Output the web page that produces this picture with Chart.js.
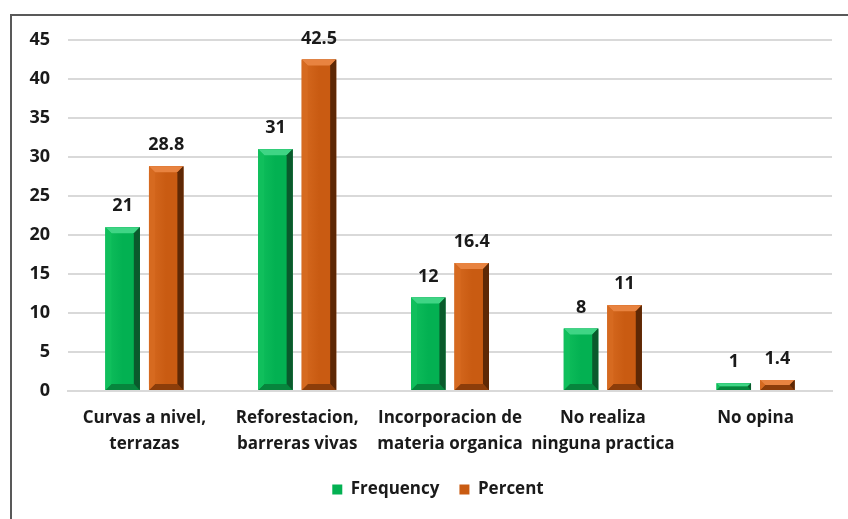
<!DOCTYPE html>
<html>
<head>
<meta charset="utf-8">
<script src="https://cdn.jsdelivr.net/npm/chart.js@4.4.1/dist/chart.umd.min.js"></script>
<style>
  html, body { margin: 0; padding: 0; background: #fff; overflow: hidden; }
  #wrap { position: relative; width: 848px; height: 519px; }
  #frame { position: absolute; left: 10px; top: 14px; width: 860px; height: 540px; border: 2px solid #595959; box-sizing: border-box; }
  canvas { position: absolute; left: 0; top: 0; }
</style>
</head>
<body>
<div id="wrap">
  <div id="frame"></div>
  <canvas id="c" width="848" height="519"></canvas>
</div>
<script>
const categories = [
  ["Curvas a nivel,", "terrazas"],
  ["Reforestacion,", "barreras vivas"],
  ["Incorporacion de", "materia organica"],
  ["No realiza", "ninguna practica"],
  ["No opina"]
];
const frequency = [21, 31, 12, 8, 1];
const percent = [28.8, 42.5, 16.4, 11, 1.4];
const yTicks = [0, 5, 10, 15, 20, 25, 30, 35, 40, 45];

const FONT = "'Open Sans', Lato, sans-serif";
const palette = {
  green: { main: '#03b152', light: '#3fd585', left: '#10bf5c', right: '#0a5a2c', bottom: '#07853d' },
  orange: { main: '#c95b12', light: '#e88340', left: '#d66a20', right: '#5e2805', bottom: '#8c3d0a' }
};

const bevelPlugin = {
  id: 'bevel',
  afterDatasetsDraw(chart) {
    const ctx = chart.ctx;
    chart.data.datasets.forEach((ds, i) => {
      const p = palette[ds.pal];
      chart.getDatasetMeta(i).data.forEach(bar => {
        const w = bar.width, L = bar.x - w / 2, R = bar.x + w / 2, T = bar.y, B = bar.base;
        const d = Math.min(6, (B - T) / 2);
        ctx.save();
        const g = ctx.createLinearGradient(L, 0, R, 0);
        g.addColorStop(0, p.left); g.addColorStop(0.5, p.main); g.addColorStop(0.85, p.main); g.addColorStop(1, p.right);
        ctx.fillStyle = g; ctx.fillRect(L, T, w, B - T);
        const poly = (pts, col) => { ctx.beginPath(); ctx.moveTo(pts[0][0], pts[0][1]); pts.slice(1).forEach(q => ctx.lineTo(q[0], q[1])); ctx.closePath(); ctx.fillStyle = col; ctx.fill(); };
        poly([[L, T], [R, T], [R - d, T + d], [L + d, T + d]], p.light);
        poly([[L, B], [R, B], [R - d, B - d], [L + d, B - d]], p.bottom);
        poly([[R, T], [R, B], [R - d, B - d], [R - d, T + d]], p.right);
        poly([[L, T], [L + d, T + d], [L + d, B - d], [L, B]], p.left);
        ctx.restore();
      });
    });
  }
};

const labelPlugin = {
  id: 'valueLabels',
  afterDatasetsDraw(chart) {
    const ctx = chart.ctx;
    ctx.save();
    ctx.font = "bold 18px " + FONT;
    ctx.fillStyle = '#1a1a1a';
    ctx.textAlign = 'center';
    ctx.textBaseline = 'bottom';
    chart.data.datasets.forEach((ds, i) => {
      chart.getDatasetMeta(i).data.forEach((bar, j) => {
        ctx.fillText(String(ds.data[j]), bar.x, bar.y - 12);
      });
    });
    ctx.restore();
  }
};

// y tick labels drawn from the y scale (so they are not clipped to the narrow axis box)
const yLabelPlugin = {
  id: 'yLabels',
  afterDraw(chart) {
    const ctx = chart.ctx, y = chart.scales.y;
    ctx.save();
    ctx.font = "bold 18px " + FONT;
    ctx.fillStyle = '#1a1a1a';
    ctx.textAlign = 'right';
    ctx.textBaseline = 'middle';
    yTicks.forEach(v => ctx.fillText(String(v), chart.chartArea.left - 18, y.getPixelForValue(v)));
    ctx.restore();
  }
};

new Chart(document.getElementById('c'), {
  type: 'bar',
  data: {
    labels: categories,
    datasets: [
      { label: 'Frequency', data: frequency, pal: 'green', backgroundColor: '#03b152', categoryPercentage: 0.57, barPercentage: 0.79 },
      { label: 'Percent', data: percent, pal: 'orange', backgroundColor: '#c95b12', categoryPercentage: 0.57, barPercentage: 0.79 }
    ]
  },
  options: {
    responsive: false,
    animation: false,
    devicePixelRatio: 1,
    layout: { padding: { left: 44, right: 16, top: 40, bottom: 11 } },
    plugins: {
      tooltip: { enabled: false },
      legend: {
        position: 'bottom',
        labels: { boxWidth: 10, boxHeight: 10, padding: 20, color: '#1a1a1a', font: { family: FONT, size: 17, weight: 'bold' } }
      }
    },
    scales: {
      x: {
        grid: { display: false, drawTicks: false },
        border: { display: true, color: '#d9d9d9', width: 2 },
        ticks: { color: '#1a1a1a', padding: 14, maxRotation: 0, autoSkip: false, font: { family: FONT, size: 17, weight: 'bold', lineHeight: 1.55 } },
        afterFit(s) { s.height = 70; }
      },
      y: {
        min: 0, max: 45,
        afterBuildTicks(s) { s.ticks = yTicks.map(v => ({ value: v })); },
        grid: { color: '#d9d9d9', lineWidth: 2, drawTicks: false },
        border: { display: false },
        ticks: { display: false },
        afterFit(s) { s.width = 24; }
      }
    }
  },
  plugins: [bevelPlugin, labelPlugin, yLabelPlugin]
});
</script>
</body>
</html>
